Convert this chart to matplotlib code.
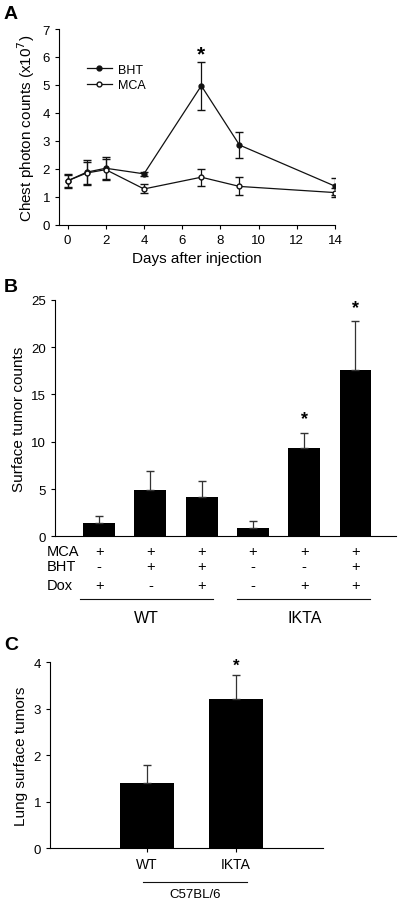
import matplotlib.pyplot as plt

plt.rcParams["font.family"] = "Liberation Sans"

# panel A - chest photon counts
days = [0, 1, 2, 4, 7, 9, 14]
bht = [1.57, 1.88, 2.02, 1.82, 4.97, 2.85, 1.38]
bht_err = [0.22, 0.45, 0.40, 0.08, 0.86, 0.48, 0.30]
mca = [1.57, 1.85, 1.97, 1.28, 1.70, 1.37, 1.15]
mca_err = [0.25, 0.40, 0.37, 0.16, 0.30, 0.32, 0.17]

# panel B - surface tumor counts
b_values = [1.45, 4.9, 4.2, 0.85, 9.3, 17.6]
b_err = [0.75, 2.0, 1.6, 0.75, 1.6, 5.1]
b_mca = ["+", "+", "+", "+", "+", "+"]
b_bht = ["-", "+", "+", "-", "-", "+"]
b_dox = ["+", "-", "+", "-", "+", "+"]
b_stars = [4, 5]

# panel C - lung surface tumors
c_labels = ["WT", "IKTA"]
c_values = [1.4, 3.2]
c_err = [0.4, 0.52]

fig = plt.figure(figsize=(4, 9.04), dpi=100)
ink = "#111111"

# ---- A ----
axA = fig.add_axes([0.1475, 0.7503, 0.69, 0.2165])
axA.errorbar(days, bht, yerr=bht_err, fmt="none", ecolor=ink, capsize=3, elinewidth=0.9)
axA.errorbar(days, mca, yerr=mca_err, fmt="none", ecolor=ink, capsize=3, elinewidth=0.9)
axA.plot(days, bht, color=ink, lw=0.9, marker="o", ms=3.5, mfc=ink, mec=ink, label="BHT")
axA.plot(days, mca, color=ink, lw=0.9, marker="o", ms=3.5, mfc="white", mec=ink, label="MCA")
axA.text(7, 6.1, "*", ha="center", va="center", fontsize=15, fontweight="bold")
axA.set_xlim(-0.45, 14)
axA.set_ylim(0, 7)
axA.set_xticks(range(0, 15, 2))
axA.set_yticks(range(0, 8))
axA.set_xlabel("Days after injection", fontsize=11)
axA.set_ylabel("Chest photon counts (x10$^7$)", fontsize=11)
axA.legend(loc="upper left", bbox_to_anchor=(0.06, 0.88), frameon=False,
           fontsize=9, handlelength=2.0, handletextpad=0.5, labelspacing=0.3)

# ---- B ----
axB = fig.add_axes([0.1375, 0.4056, 0.8525, 0.2618])
xb = range(len(b_values))
axB.bar(xb, b_values, width=0.62, color="black")
axB.errorbar(xb, b_values, yerr=[[0] * len(b_err), b_err], fmt="none",
             ecolor="#333333", elinewidth=0.9, capsize=3)
for i in b_stars:
    axB.text(i, b_values[i] + b_err[i] + 1.5, "*", ha="center", va="center",
             fontsize=13, fontweight="bold")
axB.set_xlim(-0.86, 5.79)
axB.set_ylim(0, 25)
axB.set_yticks(range(0, 26, 5))
axB.set_xticks([])
axB.set_ylabel("Surface tumor counts", fontsize=11)
tr = axB.get_xaxis_transform()
for row, (name, signs) in enumerate([("MCA", b_mca), ("BHT", b_bht), ("Dox", b_dox)]):
    y = [-0.062, -0.126, -0.206][row]
    axB.text(-1.03, y, name, transform=tr, ha="left", va="center", fontsize=10.5)
    for i, s in enumerate(signs):
        axB.text(i, y, s, transform=tr, ha="center", va="center", fontsize=10.5)
axB.plot([-0.37, 2.22], [-0.265, -0.265], transform=tr, color=ink, lw=0.8, clip_on=False)
axB.plot([2.69, 5.28], [-0.265, -0.265], transform=tr, color=ink, lw=0.8, clip_on=False)
axB.text(0.93, -0.341, "WT", transform=tr, ha="center", va="center", fontsize=11.5)
axB.text(4.0, -0.341, "IKTA", transform=tr, ha="center", va="center", fontsize=11.5)

# ---- C ----
axC = fig.add_axes([0.125, 0.0605, 0.6825, 0.2058])
xc = range(len(c_values))
axC.bar(xc, c_values, width=0.6, color="black")
axC.errorbar(xc, c_values, yerr=[[0] * len(c_err), c_err], fmt="none",
             ecolor="#333333", elinewidth=0.9, capsize=3)
axC.text(1, c_values[1] + c_err[1] + 0.22, "*", ha="center", va="center",
         fontsize=12, fontweight="bold")
axC.set_xlim(-1.09, 1.98)
axC.set_ylim(0, 4)
axC.set_yticks(range(0, 5))
axC.set_xticks(list(xc))
axC.set_xticklabels(c_labels, fontsize=10)
axC.set_ylabel("Lung surface tumors", fontsize=11)
trc = axC.get_xaxis_transform()
axC.plot([-0.045, 1.12], [-0.181, -0.181], transform=trc, color=ink, lw=0.8, clip_on=False)
axC.text(0.54, -0.245, "C57BL/6", transform=trc, ha="center", va="center", fontsize=9.5)

for ax in (axA, axB, axC):
    for s in ("top", "right"):
        ax.spines[s].set_visible(False)
    ax.spines["left"].set_linewidth(0.8)
    ax.spines["bottom"].set_linewidth(0.8)
    ax.tick_params(width=0.8, length=3, labelsize=9.5)
axC.tick_params(axis="x", labelsize=10)

fig.text(0.01, 0.984, "A", fontsize=14, fontweight="bold", va="center")
fig.text(0.01, 0.682, "B", fontsize=14, fontweight="bold", va="center")
fig.text(0.01, 0.286, "C", fontsize=14, fontweight="bold", va="center")

fig.savefig("out.png", dpi=100)
